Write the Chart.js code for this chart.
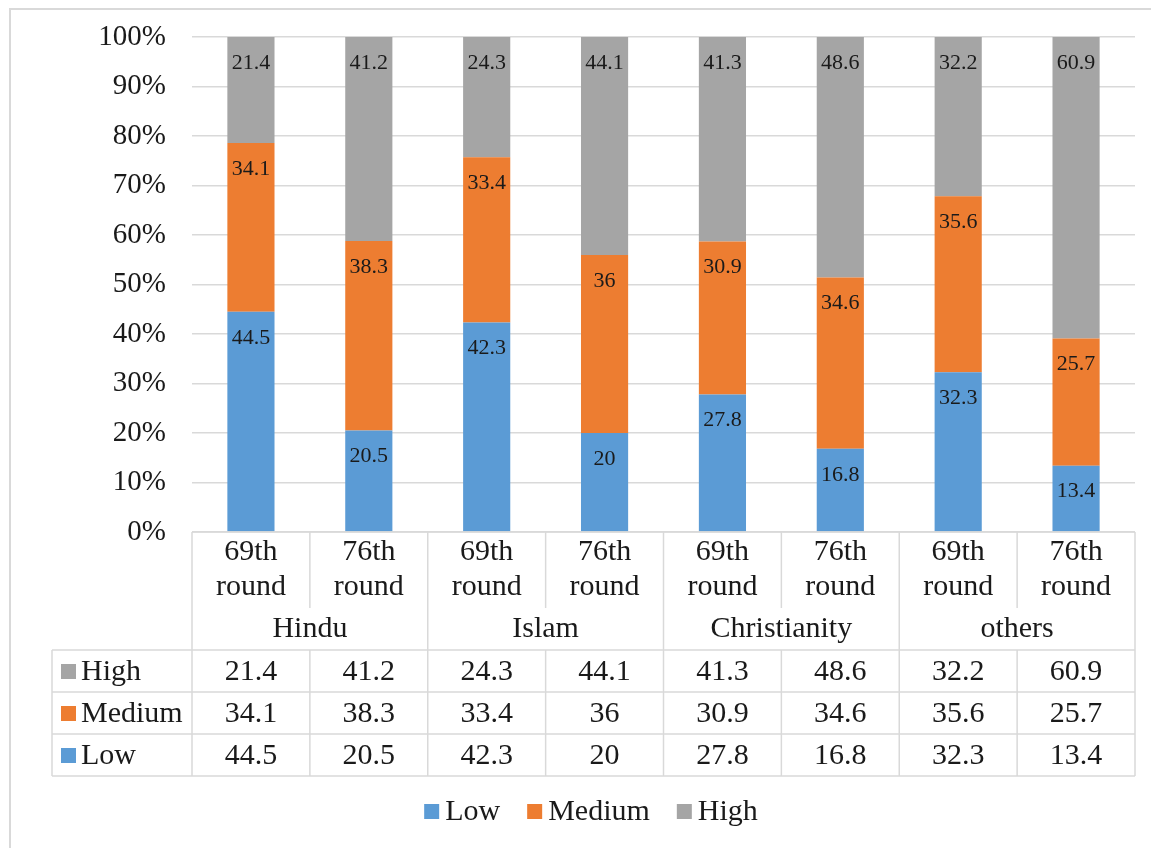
<!DOCTYPE html>
<html>
<head>
<meta charset="utf-8">
<script src="https://cdn.jsdelivr.net/npm/chart.js@4/dist/chart.umd.min.js"></script>
<style>
  html, body { margin: 0; padding: 0; background: #ffffff; }
  #wrap { position: relative; width: 1151px; height: 848px; }
  canvas { display: block; }
</style>
</head>
<body>
<div id="wrap"><canvas id="c" width="1151" height="848"></canvas></div>
<script>
// Religion groups and survey rounds
const groups = ['Hindu', 'Islam', 'Christianity', 'others'];
const rounds = ['69th round', '76th round'];
const categories = ['Hindu 69th', 'Hindu 76th', 'Islam 69th', 'Islam 76th',
                    'Christianity 69th', 'Christianity 76th', 'others 69th', 'others 76th'];

// Shares (%) per column
const lowValues    = [44.5, 20.5, 42.3, 20, 27.8, 16.8, 32.3, 13.4];
const mediumValues = [34.1, 38.3, 33.4, 36, 30.9, 34.6, 35.6, 25.7];
const highValues   = [21.4, 41.2, 24.3, 44.1, 41.3, 48.6, 32.2, 60.9];

const seriesNames  = ['Low', 'Medium', 'High'];
const seriesColors = ['#5B9BD5', '#ED7D31', '#A5A5A5'];
const yTicks = [0, 10, 20, 30, 40, 50, 60, 70, 80, 90, 100];

const FONT = "'Liberation Serif', 'Times New Roman', serif";
const TEXT = '#1a1a1a';
const LINE = '#d9d9d9';

// Each column is stacked to 100%
const rawSeries = [lowValues, mediumValues, highValues];
const totals = categories.map((_, i) => rawSeries.reduce((s, arr) => s + arr[i], 0));
const toShare = arr => arr.map((v, i) => v / totals[i] * 100);

// Value labels near the top of each segment
const segmentLabels = {
  id: 'segmentLabels',
  afterDatasetsDraw(chart) {
    const ctx = chart.ctx;
    ctx.save();
    ctx.font = '22px ' + FONT;
    ctx.fillStyle = TEXT;
    ctx.textAlign = 'center';
    ctx.textBaseline = 'middle';
    chart.data.datasets.forEach((ds, di) => {
      chart.getDatasetMeta(di).data.forEach((bar, i) => {
        ctx.fillText(String(ds.raw[i]), bar.x, bar.y + 26);
      });
    });
    ctx.restore();
  }
};

// Data table under the plot area, series key, and the outer frame
const dataTable = {
  id: 'dataTable',
  afterDraw(chart) {
    const ctx = chart.ctx;
    const x = chart.scales.x;
    const area = chart.chartArea;
    const n = categories.length;
    const colW = (area.right - area.left) / n;
    const top = area.bottom;          // axis line
    const headerBottom = top + 118;   // end of group header
    const innerBottom = top + 76;     // end of round separators
    const rowH = 42;
    const labelLeft = 52;
    const tableBottom = headerBottom + rowH * 3;

    ctx.save();
    ctx.strokeStyle = LINE;
    ctx.lineWidth = 1.5;
    const line = (x1, y1, x2, y2) => {
      ctx.beginPath(); ctx.moveTo(x1, y1); ctx.lineTo(x2, y2); ctx.stroke();
    };

    // horizontal rules
    line(area.left, top, area.right, top);
    for (let r = 0; r <= 3; r++) {
      line(labelLeft, headerBottom + r * rowH, area.right, headerBottom + r * rowH);
    }
    // vertical rules
    for (let c = 0; c <= n; c++) {
      const xx = area.left + c * colW;
      if (c % 2 === 0) line(xx, top, xx, tableBottom);
      else {
        line(xx, top, xx, innerBottom);
        line(xx, headerBottom, xx, tableBottom);
      }
    }
    line(labelLeft, headerBottom, labelLeft, tableBottom);

    // header text
    ctx.fillStyle = TEXT;
    ctx.font = '30px ' + FONT;
    ctx.textAlign = 'center';
    ctx.textBaseline = 'middle';
    categories.forEach((_, i) => {
      const cx = x.getPixelForValue(i);
      const parts = rounds[i % 2].split(' ');
      ctx.fillText(parts[0], cx, top + 20);
      ctx.fillText(parts[1], cx, top + 55);
    });
    groups.forEach((g, gi) => {
      const cx = area.left + (gi * 2 + 1) * colW;
      ctx.fillText(g, cx, top + 97);
    });

    // value rows: High, Medium, Low
    const rowOrder = [2, 1, 0];
    rowOrder.forEach((si, r) => {
      const cy = headerBottom + r * rowH + rowH / 2;
      ctx.fillStyle = seriesColors[si];
      ctx.fillRect(61, cy - 7, 15, 15);
      ctx.fillStyle = TEXT;
      ctx.textAlign = 'left';
      ctx.fillText(seriesNames[si], 81, cy + 1);
      ctx.textAlign = 'center';
      rawSeries[si].forEach((v, i) => {
        ctx.fillText(String(v), x.getPixelForValue(i), cy + 1);
      });
    });

    // series key below the table
    const keyY = tableBottom + 35;
    const box = 15, gapText = 6, gapItem = 27;
    const widths = chart.data.datasets.map(ds => box + gapText + ctx.measureText(ds.label).width);
    const total = widths.reduce((a, b) => a + b, 0) + gapItem * (widths.length - 1);
    let kx = 591 - total / 2;
    ctx.textAlign = 'left';
    chart.data.datasets.forEach((ds, di) => {
      ctx.fillStyle = ds.backgroundColor;
      ctx.fillRect(kx, keyY - 7, box, box);
      ctx.fillStyle = TEXT;
      ctx.fillText(ds.label, kx + box + gapText, keyY + 1);
      kx += widths[di] + gapItem;
    });

    // outer frame
    ctx.strokeStyle = LINE;
    ctx.lineWidth = 2;
    ctx.strokeRect(10, 9, 1200, 900);
    ctx.restore();
  }
};

new Chart(document.getElementById('c'), {
  type: 'bar',
  data: {
    labels: categories,
    datasets: seriesNames.map((name, si) => ({
      label: name,
      data: toShare(rawSeries[si]),
      raw: rawSeries[si],
      backgroundColor: seriesColors[si],
      borderWidth: 0,
      barPercentage: 0.4,
      categoryPercentage: 1.0
    }))
  },
  options: {
    responsive: false,
    animation: false,
    layout: { padding: { top: 37, right: 16, bottom: 72, left: 0 } },
    plugins: {
      tooltip: { enabled: false },
      legend: { display: false }
    },
    scales: {
      x: {
        stacked: true,
        grid: { display: false, drawTicks: false },
        border: { display: false },
        ticks: { display: false },
        afterFit(scale) { scale.height = 244; }
      },
      y: {
        stacked: true,
        min: 0,
        max: 100,
        afterBuildTicks(scale) { scale.ticks = yTicks.map(v => ({ value: v })); },
        ticks: {
          font: { family: FONT, size: 29 },
          color: TEXT,
          padding: 26,
          callback: v => v + '%'
        },
        grid: { color: LINE, lineWidth: 1.5, drawTicks: false },
        border: { display: false },
        afterFit(scale) {
          scale.width = 192;
          scale.paddingTop = 0;
          scale.paddingBottom = 0;
        }
      }
    }
  },
  plugins: [segmentLabels, dataTable]
});
</script>
</body>
</html>
